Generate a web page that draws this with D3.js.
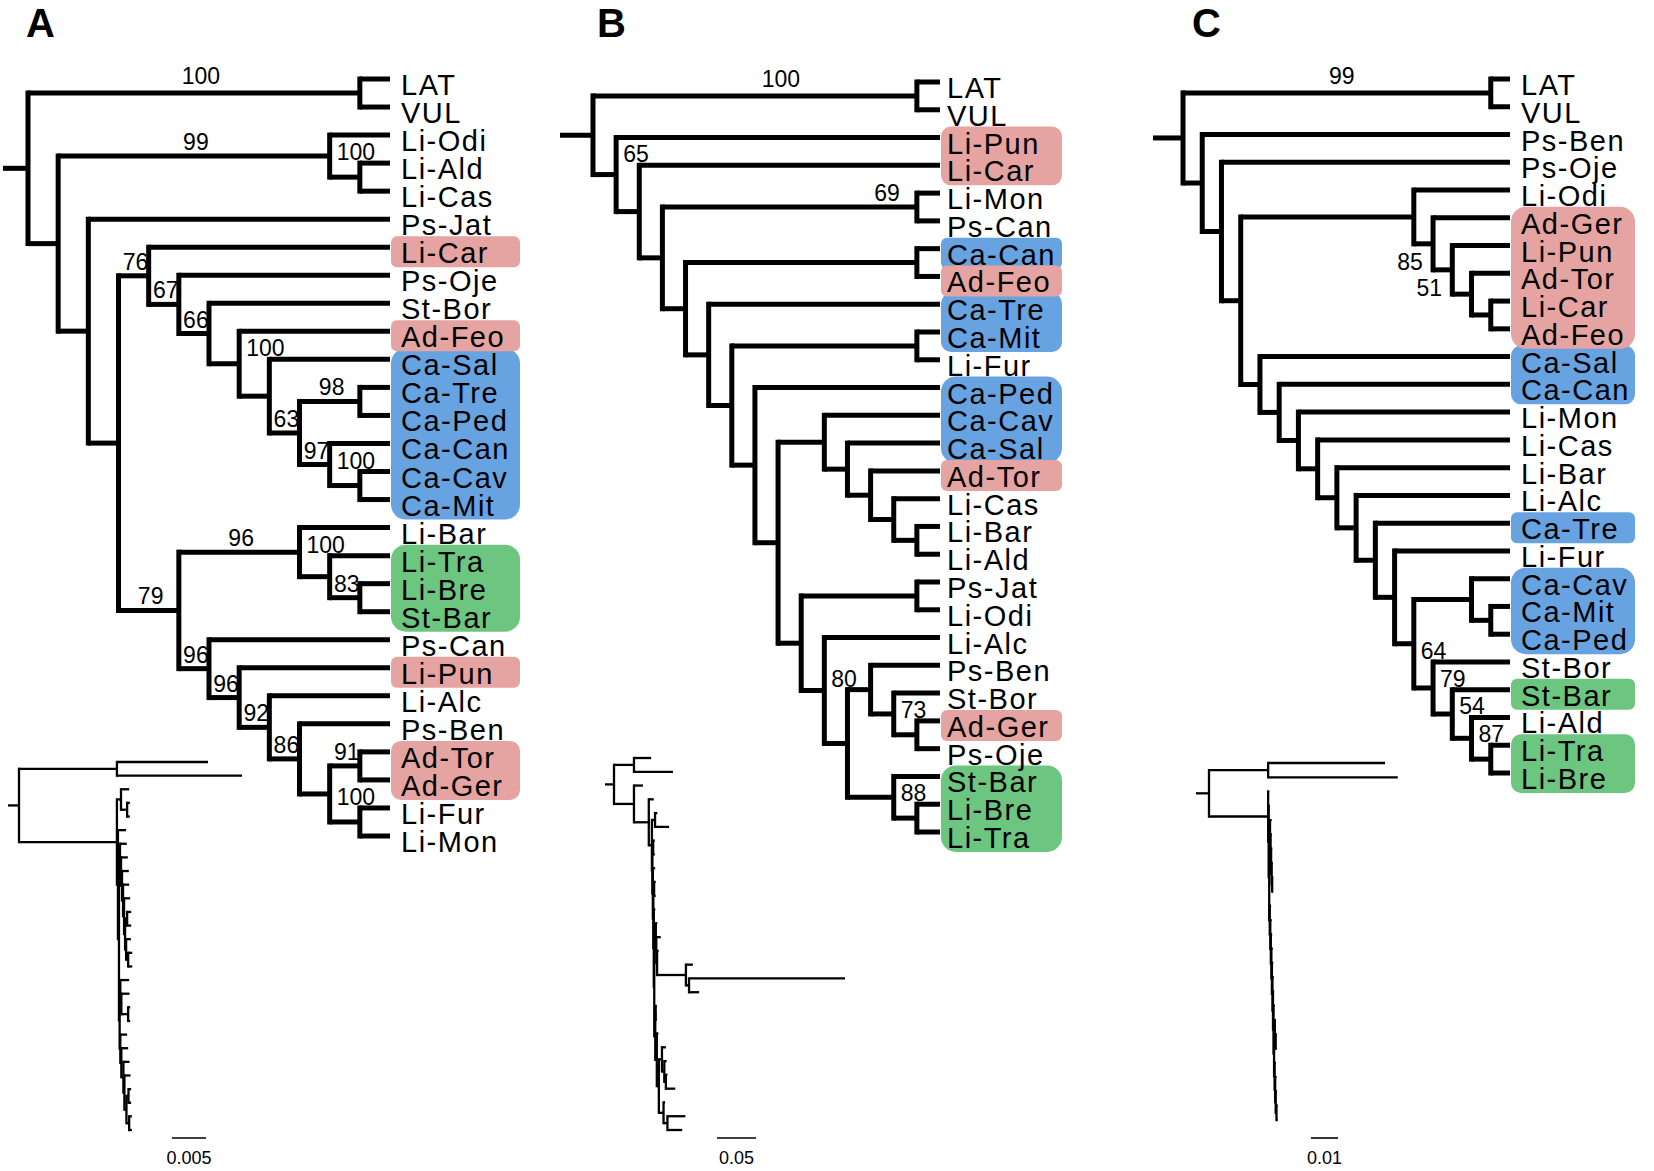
<!DOCTYPE html>
<html><head><meta charset="utf-8">
<script src="https://cdn.jsdelivr.net/npm/d3@7"></script>
<style>body{margin:0;background:#fff;} svg{display:block;background:#fff;}</style>
</head><body>
<svg id="fig" width="1654" height="1171"></svg>
<script>
// ---------------- DATA ----------------
// Newick trees: topology, bootstrap supports (node labels) and branch lengths (substitutions/site)
const treeA = "((LAT:0.0134,VUL:0.0184)100:0.0144,((Li-Odi:0.0012,(Li-Ald:0.0004,Li-Cas:0.0004)100:0.0009)99:0.0006,(Ps-Jat:0.0012,((Li-Car:0.001,(Ps-Oje:0.001,(St-Bor:0.001,(Ad-Feo:0.0009,(Ca-Sal:0.0009,((Ca-Tre:0.0006,Ca-Ped:0.0006)98:0.0003,(Ca-Can:0.0007,(Ca-Cav:0.0006,Ca-Mit:0.0006)100:0.0003)97:0.00015)63:0.00015)100:0.00015):0.00015)66:0.00015)67:0.00015)76:0.00015,((Li-Bar:0.0013,(Li-Tra:0.0012,(Li-Bre:0.0003,St-Bar:0.0003)83:0.001)100:0.00015)96:0.0001,(Ps-Can:0.001,(Li-Pun:0.001,(Li-Alc:0.0009,(Ps-Ben:0.0009,((Ad-Tor:0.0004,Ad-Ger:0.0004)91:0.0003,(Li-Fur:0.0004,Li-Mon:0.0004)100:0.0004):0.0003)86:0.00015)92:0.0003)96:0.00015)96:0.0001)79:0.0001):0.00015):0.00015):0.0144);";
const treeB = "((LAT:0.022,VUL:0.05)100:0.0256,(Li-Pun:0.0115,(Li-Car:0.0064,((Li-Mon:0.003,Ps-Can:0.018)69:0.004,((Ca-Can:0.002,Ad-Feo:0.002):0.001,(Ca-Tre:0.003,((Ca-Mit:0.002,Li-Fur:0.002):0.001,(Ca-Ped:0.002,((Ca-Cav:0.002,(Ca-Sal:0.0058,(Ad-Tor:0.002,(Li-Cas:0.009,(Li-Bar:0.2,Li-Ald:0.013):0.004):0.037):0.001):0.0006):0.002,((Ps-Jat:0.001,Li-Odi:0.001):0.0005,(Li-Alc:0.002,((Ps-Ben:0.005,(St-Bor:0.003,(Ad-Ger:0.002,Ps-Oje:0.012)73:0.002):0.003):0.004,(St-Bar:0.002,(Li-Bre:0.023,Li-Tra:0.019)88:0.005):0.006)80:0.0026):0.002):0.0013):0.0006):0.0006):0.0006):0.0006):0.0006):0.004)65:0.019):0.0256);";
const treeC = "((LAT:0.0433,VUL:0.048)99:0.0219,(Ps-Ben:0.0004,(Ps-Oje:0.0004,((Li-Odi:0.0006,(Ad-Ger:0.0004,(Li-Pun:0.0004,(Ad-Tor:0.0003,(Li-Car:0.0003,Ad-Feo:0.0003):0.0002):0.0002)51:0.0002)85:0.0002):0.0003,(Ca-Sal:0.0005,(Ca-Can:0.0005,(Li-Mon:0.0005,(Li-Cas:0.0005,(Li-Bar:0.0005,(Li-Alc:0.0005,(Ca-Tre:0.0004,(Li-Fur:0.0004,((Ca-Cav:0.0004,(Ca-Mit:0.0003,Ca-Ped:0.0003):0.0003):0.0003,(St-Bor:0.0005,(St-Bar:0.0005,(Li-Ald:0.0005,(Li-Tra:0.0004,Li-Bre:0.0004)87:0.0003)54:0.0002)79:0.0002)64:0.0002):0.0002):0.0002):0.0002):0.0002):0.0002):0.0002):0.0002):0.0002):0.0002):0.0002):0.0002):0.0219);";

const panelLetters = ["A", "B", "C"];
const scaleBarValues = [0.005, 0.05, 0.01];
const scaleBarLabels = ["0.005", "0.05", "0.01"];

const pinkTaxa = ["Li-Car", "Li-Pun", "Ad-Feo", "Ad-Tor", "Ad-Ger"];
const blueTaxa = ["Ca-Sal", "Ca-Tre", "Ca-Ped", "Ca-Can", "Ca-Cav", "Ca-Mit"];
const greenTaxa = ["Li-Tra", "Li-Bre", "St-Bar"];

// ---------------- LAYOUT / STYLE ----------------
const COLORS = {pink: "#e5a4a1", blue: "#67a3e0", green: "#6cc67f"};
const FONT = "'Liberation Sans', Arial, Helvetica, sans-serif";

const layout = [
  {id: "A", letterX: 26, stubX: 3, rootX: 28, tipX: 390, top: 79, bottom: 836, labelGap: 11, boxRight: 520,
   phy: {stubX: 8, rootX: 19, top: 762, bottom: 1130, ppu: 6800, barX: 172, barY: 1138}},
  {id: "B", letterX: 597, stubX: 560, rootX: 593, tipX: 940, top: 82, bottom: 832, labelGap: 7, boxRight: 1062,
   phy: {stubX: 605, rootX: 614, top: 758, bottom: 1130, ppu: 780, barX: 717, barY: 1138}},
  {id: "C", letterX: 1192, stubX: 1153, rootX: 1183, tipX: 1510, top: 79, bottom: 773, labelGap: 11, boxRight: 1635,
   phy: {stubX: 1196, rootX: 1209, top: 763, bottom: 1120, ppu: 2700, barX: 1311, barY: 1138}}
];
// placement tweaks for a few support labels (keyed by panel | first leaf | last leaf of the node)
const labelOverrides = {
  "A|LAT|VUL": {mode: "mid", dx: 7},
  "B|LAT|VUL": {mode: "mid", dx: 26},
  "C|LAT|VUL": {mode: "mid", dx: 5},
  "B|Li-Mon|Ps-Can": {mode: "end"},
  "C|Ad-Ger|Ad-Feo": {mode: "below"},
  "C|Li-Pun|Ad-Feo": {mode: "below"}
};

// ---------------- NEWICK PARSER ----------------
function parseNewick(s) {
  let i = 0;
  function node() {
    const n = {};
    if (s[i] === "(") {
      i++;
      n.children = [node()];
      while (s[i] === ",") { i++; n.children.push(node()); }
      i++; // ')'
    }
    let lab = "";
    while (i < s.length && !":,);".includes(s[i])) lab += s[i++];
    if (n.children) { if (lab) n.support = lab; } else n.name = lab;
    if (s[i] === ":") {
      i++; let num = "";
      while (i < s.length && !",);".includes(s[i])) num += s[i++];
      n.length = +num;
    }
    return n;
  }
  return node();
}

const svg = d3.select("#fig");
svg.append("rect").attr("width", 1654).attr("height", 1171).attr("fill", "#fff");

function groupOf(name) {
  if (pinkTaxa.includes(name)) return "pink";
  if (blueTaxa.includes(name)) return "blue";
  if (greenTaxa.includes(name)) return "green";
  return null;
}

function drawTreeLines(g, root, xf, yf, sw, stubX) {
  const lines = [];
  root.each(d => {
    if (d.parent) lines.push([xf(d.parent), yf(d), xf(d), yf(d)]);
    if (d.children) {
      const c0 = d.children[0], c1 = d.children[d.children.length - 1];
      lines.push([xf(d), yf(c0) - sw / 2, xf(d), yf(c1) + sw / 2]);
    }
  });
  lines.push([stubX, yf(root), xf(root), yf(root)]);
  g.selectAll(null).data(lines).join("line")
    .attr("x1", l => l[0]).attr("y1", l => l[1]).attr("x2", l => l[2]).attr("y2", l => l[3])
    .attr("stroke", "#000").attr("stroke-width", sw).attr("stroke-linecap", "butt");
}

function drawPanel(cfg, nwk, letter, barVal, barLabel) {
  const g = svg.append("g");
  const root = d3.hierarchy(parseNewick(nwk));
  d3.cluster().nodeSize([1, 1]).separation(() => 1)(root);
  const leaves = root.leaves();

  const y = d3.scaleLinear().domain([leaves[0].x, leaves[leaves.length - 1].x]).range([cfg.top, cfg.bottom]);
  const x = d3.scaleLinear().domain([0, root.height]).range([cfg.rootX, cfg.tipX]);
  root.each(d => { d.px = x(d.y); d.py = y(d.x); });

  // highlight boxes
  const runs = [];
  leaves.forEach((l, idx) => {
    const gr = groupOf(l.data.name);
    if (!gr) return;
    const last = runs[runs.length - 1];
    if (last && last.group === gr && last.end === idx - 1) { last.end = idx; last.lastLeaf = l; }
    else runs.push({group: gr, start: idx, end: idx, firstLeaf: l, lastLeaf: l});
  });
  runs.sort((a, b) => (a.group === "pink") - (b.group === "pink"));
  g.selectAll(null).data(runs).join("rect")
    .attr("x", cfg.tipX + 1)
    .attr("width", cfg.boxRight - cfg.tipX - 1)
    .attr("y", r => r.firstLeaf.py - 11)
    .attr("height", r => r.lastLeaf.py - r.firstLeaf.py + 31)
    .attr("rx", r => { const n = r.end - r.start + 1; return n === 1 ? 6 : n === 2 ? 10 : 15; })
    .attr("fill", r => COLORS[r.group]);

  // branches
  drawTreeLines(g, root, d => d.px, d => d.py, 5, cfg.stubX);

  // tip labels
  g.selectAll(null).data(leaves).join("text")
    .attr("x", cfg.tipX + cfg.labelGap)
    .attr("y", d => d.py + 16)
    .attr("font-family", FONT).attr("font-size", 29).attr("letter-spacing", "1.5px")
    .attr("fill", "#000")
    .text(d => d.data.name);

  // support labels
  root.descendants().forEach(d => {
    if (!d.children || !d.parent || !d.data.support) return;
    const lv = d.leaves();
    const key = cfg.id + "|" + lv[0].data.name + "|" + lv[lv.length - 1].data.name;
    const ov = labelOverrides[key] || {};
    const t = g.append("text").text(d.data.support)
      .attr("font-family", FONT).attr("font-size", 23).attr("fill", "#000");
    const w = t.node().getComputedTextLength();
    const L = d.px - d.parent.px;
    if (ov.mode === "end") {
      t.attr("text-anchor", "end").attr("x", d.px - 17).attr("y", d.py - 6);
    } else if (ov.mode === "below") {
      t.attr("text-anchor", "end").attr("x", d.parent.px + 9).attr("y", d.py + 26);
    } else if (ov.mode === "mid") {
      t.attr("text-anchor", "middle").attr("x", (d.px + d.parent.px) / 2 + ov.dx).attr("y", d.py - 9);
    } else if (w <= L - 2) {
      t.attr("text-anchor", "middle").attr("x", (d.px + d.parent.px) / 2 + 2).attr("y", d.py - 6);
    } else {
      t.attr("text-anchor", "start").attr("x", d.parent.px + 7).attr("y", d.children[0].py - 3);
    }
  });

  // phylogram (branch lengths)
  const p = cfg.phy;
  root.eachBefore(d => { d.blen = d.parent ? d.parent.blen + (d.data.length || 0) : 0; });
  const bx = d3.scaleLinear().domain([0, 1]).range([p.rootX, p.rootX + p.ppu]);
  const by = d3.scaleLinear().domain([leaves[0].x, leaves[leaves.length - 1].x]).range([p.top, p.bottom]);
  const pg = svg.append("g");
  drawTreeLines(pg, root, d => bx(d.blen), d => by(d.x), 2.3, p.stubX);

  // scale bar
  const barLen = bx(barVal) - bx(0);
  pg.append("line").attr("x1", p.barX).attr("x2", p.barX + barLen).attr("y1", p.barY).attr("y2", p.barY)
    .attr("stroke", "#000").attr("stroke-width", 1.6);
  pg.append("text").attr("x", p.barX + barLen / 2).attr("y", p.barY + 26)
    .attr("text-anchor", "middle").attr("font-family", FONT).attr("font-size", 18).attr("fill", "#000")
    .text(barLabel);

  // panel letter
  svg.append("text").attr("x", cfg.letterX).attr("y", 37)
    .attr("font-family", FONT).attr("font-size", 40).attr("font-weight", "bold").attr("fill", "#000")
    .text(letter);
}

const trees = [treeA, treeB, treeC];
layout.forEach((cfg, i) => drawPanel(cfg, trees[i], panelLetters[i], scaleBarValues[i], scaleBarLabels[i]));
</script>
</body></html>
